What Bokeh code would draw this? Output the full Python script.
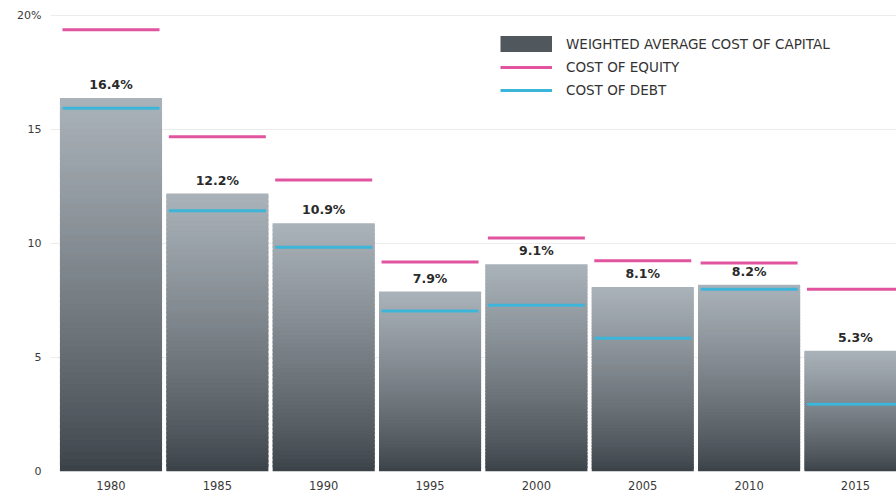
from bokeh.plotting import figure
from bokeh.models import Range1d, FixedTicker, Legend, LegendItem, ColumnDataSource
from bokeh.core.properties import value
from bokeh.embed import file_html
from bokeh.resources import INLINE

# ---- data ----
years = [1980, 1985, 1990, 1995, 2000, 2005, 2010, 2015]
wacc = [16.4, 12.2, 10.9, 7.9, 9.1, 8.1, 8.2, 5.3]
wacc_labels = ["16.4%", "12.2%", "10.9%", "7.9%", "9.1%", "8.1%", "8.2%", "5.3%"]
cost_of_equity = [19.4, 14.7, 12.8, 9.2, 10.25, 9.25, 9.15, 8.0]
cost_of_debt = [15.95, 11.45, 9.85, 7.05, 7.3, 5.85, 8.0, 2.95]
y_ticks = [0, 5, 10, 15, 20]
y_tick_labels = {20: "20%"}
legend_labels = ["WEIGHTED AVERAGE COST OF CAPITAL", "COST OF EQUITY", "COST OF DEBT"]

# ---- style ----
FONT = "DejaVu Sans"
BAR_W = 4.8
LINE_W = 4.56
TOP_RGB = (0xAA, 0xB3, 0xB9)
BOT_RGB = (0x39, 0x40, 0x46)
PINK = "#e2549f"
BLUE = "#3db5d8"
SWATCH = "#50585e"
N_SLICES = 60
NAN = float("nan")

p = figure(width=896, height=498, output_backend="svg", toolbar_location=None,
           x_range=Range1d(1977.156, 2016.93), y_range=Range1d(0, 20.24),
           min_border_left=50, min_border_right=0, min_border_top=10, min_border_bottom=27)
p.outline_line_color = None
p.background_fill_color = "white"
p.border_fill_color = "white"
p.xgrid.grid_line_color = None
p.ygrid.grid_line_color = "#ececec"
p.ygrid.grid_line_width = 1
p.ygrid.ticker = FixedTicker(ticks=y_ticks)

def lerp_color(t):
    t = t ** 0.8
    r, g, b = (int(round(BOT_RGB[k] + (TOP_RGB[k] - BOT_RGB[k]) * t)) for k in range(3))
    return "#%02x%02x%02x" % (r, g, b)

# gradient bars: each bar is split into stacked slices computed from its value
for i in range(N_SLICES):
    bottoms = [v * i / N_SLICES for v in wacc]
    tops = [v * min(i + 1.6, N_SLICES) / N_SLICES for v in wacc]
    c = lerp_color((i + 0.5) / N_SLICES)
    src = ColumnDataSource(dict(x=years, bottom=bottoms, top=tops))
    p.vbar(x="x", bottom="bottom", top="top", width=BAR_W, source=src,
           fill_color=c, line_color=None)

eq_src = ColumnDataSource(dict(x0=[y - LINE_W / 2 for y in years], x1=[y + LINE_W / 2 for y in years],
                               y=cost_of_equity))
r_eq = p.segment(x0="x0", x1="x1", y0="y", y1="y", source=eq_src, line_color=PINK, line_width=3)
debt_src = ColumnDataSource(dict(x0=[y - LINE_W / 2 for y in years], x1=[y + LINE_W / 2 for y in years],
                                 y=cost_of_debt))
r_debt = p.segment(x0="x0", x1="x1", y0="y", y1="y", source=debt_src, line_color=BLUE, line_width=3)

# legend proxy for the bar series (NaN point, never drawn in the plot)
proxy_src = ColumnDataSource(dict(x0=[NAN], x1=[NAN], y=[NAN]))
r_proxy = p.segment(x0="x0", x1="x1", y0="y", y1="y", source=proxy_src,
                    line_color=SWATCH, line_width=17, line_cap="butt")

lab_src = ColumnDataSource(dict(x=years, y=wacc, t=wacc_labels))
p.text(x="x", y="y", text="t", source=lab_src, text_align="center", text_baseline="bottom",
       y_offset=-6, text_font=value(FONT), text_font_style="bold", text_font_size="12.5px",
       text_color="#2a2a2a")

# axes
p.xaxis.ticker = FixedTicker(ticks=years)
p.yaxis.ticker = FixedTicker(ticks=y_ticks)
p.yaxis.major_label_overrides = y_tick_labels
for ax in (p.xaxis, p.yaxis):
    ax.axis_line_color = None
    ax.major_tick_line_color = None
    ax.minor_tick_line_color = None
    ax.major_label_text_font = FONT
    ax.major_label_text_font_size = "11px"
    ax.major_label_text_color = "#3a3a3a"
p.xaxis.major_label_text_font_size = "11.5px"
p.xaxis.major_label_standoff = 3
p.yaxis.major_label_standoff = 3

legend = Legend(items=[
    LegendItem(label=legend_labels[0], renderers=[r_proxy], index=0),
    LegendItem(label=legend_labels[1], renderers=[r_eq]),
    LegendItem(label=legend_labels[2], renderers=[r_debt]),
], location=(450, 373), orientation="vertical")
legend.glyph_width = 52
legend.glyph_height = 16
legend.label_height = 16
legend.spacing = 7
legend.padding = 0
legend.margin = 0
legend.label_standoff = 14
legend.border_line_color = None
legend.background_fill_alpha = 0
legend.label_text_font = FONT
legend.label_text_font_size = "13.5px"
legend.label_text_color = "#333333"
p.add_layout(legend)

open("out.html", "w").write(file_html(p, INLINE))
